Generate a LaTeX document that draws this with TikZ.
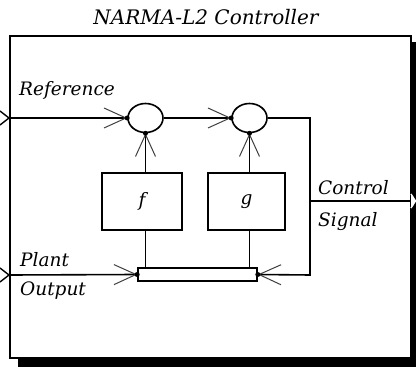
\documentclass[tikz,border=0pt]{standalone}
\usepackage{fontspec}
\setmainfont{DejaVu Serif}
\usetikzlibrary{arrows.meta,shapes.geometric}
\begin{document}
\begin{tikzpicture}[x=1pt,y=-1pt,
  wire/.style={line width=1.6pt},
  sig/.style={wire,-{Straight Barb[length=22pt,width=20pt,line width=1pt,color=black!75]}},
  lbl/.style={inner sep=0pt,font=\fontsize{18.5}{21}\selectfont\itshape,anchor=base west},
  sumnode/.style={ellipse,draw,line width=1.6pt,minimum width=35pt,minimum height=29pt,inner sep=0pt},
  fnbox/.style={draw,line width=1.6pt,inner sep=0pt,minimum height=57pt,font=\fontsize{18.5}{21}\selectfont\itshape},
  port/.style={line width=1.4pt,fill=white},
  tipdot/.style={fill=black}
]
\fill[white] (0,0) rectangle (416,369);
\useasboundingbox (0,0) rectangle (416,369);

% title
\node[inner sep=0pt,font=\fontsize{20}{22}\selectfont\itshape,anchor=base] (title) at (206,25) {NARMA-L2 Controller};

% frame and shadow
\fill (18,357) rectangle (416,367);
\fill (410.5,42) rectangle (416,367);
\node[draw,line width=1.8pt,fill=white,minimum width=401pt,minimum height=322pt,inner sep=0pt] (frame) at (210.5,197) {};

% ports
\coordinate (inRef) at (10,118);
\coordinate (inPlant) at (10,275);
\coordinate (outCtl) at (411,201);
\draw[port] (0,111) -- (9,118) -- (0,125);
\draw[port] (0,268) -- (9,275) -- (0,282);
\draw[port,draw=white,line width=1.4pt] (411,194) -- (415.5,201) -- (411,208);

% blocks
\node[sumnode] (s1) at (145.5,118) {};
\node[sumnode] (s2) at (249.5,118) {};
\node[fnbox,minimum width=80pt] (f) at (142,201.5) {f};
\node[fnbox,minimum width=77pt] (g) at (246.5,201.5) {g};
\node[draw,line width=1.6pt,fill=white,minimum width=119pt,minimum height=13pt,inner sep=0pt] (bar) at (197.5,274.5) {};

% corner coordinates
\coordinate (fbTop) at (310,118);
\coordinate (fbBot) at (310,275);
\coordinate (ctlJ) at (310,201);

% connectors
\draw[sig] (inRef) -- (s1.west);
\draw[sig] (s1.east) -- (s2.west);
\draw[sig] (s1.south |- f.north) -- (s1.south);
\draw[sig] (s2.south |- g.north) -- (s2.south);
\draw[wire] (s1.south |- bar.north) -- (s1.south |- f.south);
\draw[wire] (s2.south |- bar.north) -- (s2.south |- g.south);
\draw[sig] (inPlant) -- (bar.west);
\draw[sig] (s2.east) -- (fbTop) -- (fbBot) -- (bar.east);
\draw[wire] (ctlJ) -- (outCtl);

% tip dots
\fill[tipdot] (s1.west) circle (2.5pt);
\fill[tipdot] (s2.west) circle (2.5pt);
\fill[tipdot] (s1.south) circle (2.5pt);
\fill[tipdot] (s2.south) circle (2.5pt);
\fill[tipdot] (bar.west) circle (2.5pt);
\fill[tipdot] (bar.east) circle (2.5pt);

% labels
\node[lbl] (lref) at (19,96) {Reference};
\node[lbl] (lplant) at (20,267) {Plant};
\node[lbl] (lout) at (20,296) {Output};
\node[lbl] (lctl) at (318,195) {Control};
\node[lbl] (lsig) at (318,226) {Signal};
\end{tikzpicture}
\end{document}
